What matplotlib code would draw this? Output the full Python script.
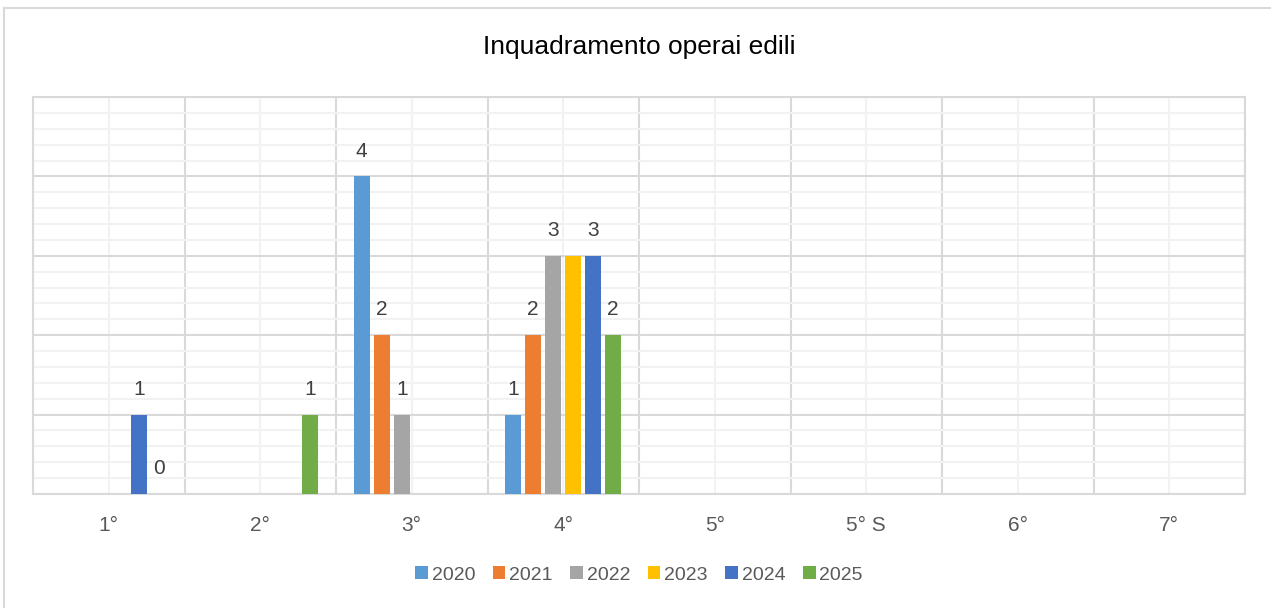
import numpy as np
import matplotlib.pyplot as plt
from matplotlib.ticker import MultipleLocator
from matplotlib.lines import Line2D

plt.rcParams['font.family'] = ['Liberation Sans Narrow', 'Liberation Sans', 'DejaVu Sans']

# dati
categorie = ["1°", "2°", "3°", "4°", "5°", "5° S", "6°", "7°"]
anni = ["2020", "2021", "2022", "2023", "2024", "2025"]
v2020 = [np.nan, np.nan, 4, 1, np.nan, np.nan, np.nan, np.nan]
v2021 = [np.nan, np.nan, 2, 2, np.nan, np.nan, np.nan, np.nan]
v2022 = [np.nan, np.nan, 1, 3, np.nan, np.nan, np.nan, np.nan]
v2023 = [np.nan, np.nan, np.nan, 3, np.nan, np.nan, np.nan, np.nan]
v2024 = [1, np.nan, np.nan, 3, np.nan, np.nan, np.nan, np.nan]
v2025 = [0, 1, np.nan, 2, np.nan, np.nan, np.nan, np.nan]
serie = [v2020, v2021, v2022, v2023, v2024, v2025]
colori = ["#5B9BD5", "#ED7D31", "#A5A5A5", "#FFC000", "#4472C4", "#70AD47"]
# etichette che nel grafico originale non compaiono (sovrapposte)
etichette_nascoste = [("2023", "4°")]

fig = plt.figure(figsize=(12.71, 6.08), dpi=100)
ax = fig.add_axes([33 / 1271, 114 / 608, 1212 / 1271, 397 / 608])

x = np.arange(len(categorie))
step = 20 / 151.5
width = 16 / 151.5
for i, (vals, col) in enumerate(zip(serie, colori)):
    pos = x + (i - 2.5) * step
    ax.bar(pos, vals, width, color=col, label=anni[i], zorder=3)
    for p, v, cat in zip(pos, vals, categorie):
        if np.isnan(v) or (anni[i], cat) in etichette_nascoste:
            continue
        ax.text(p, v + 0.2, f"{int(v)}", ha='center', va='bottom',
                fontsize=15, color='#404040', zorder=4)

ax.set_xlim(-0.5, len(categorie) - 0.5)
ax.set_ylim(0, 5)
ax.yaxis.set_major_locator(MultipleLocator(1))
ax.yaxis.set_minor_locator(MultipleLocator(0.2))
ax.set_xticks(x)
ax.set_xticklabels(categorie, fontsize=15, color='#595959')
ax.set_xticks(np.arange(-0.5, len(categorie)), minor=True)
ax.tick_params(axis='both', which='both', length=0)
ax.tick_params(axis='x', pad=16)
ax.set_yticklabels([])

# griglia
ax.grid(which='major', axis='y', color='#D9D9D9', linewidth=1.5, zorder=0)
ax.grid(which='minor', axis='y', color='#F2F2F2', linewidth=1.5, zorder=0)
ax.grid(which='minor', axis='x', color='#D9D9D9', linewidth=1.5, zorder=0)
ax.grid(which='major', axis='x', color='#F2F2F2', linewidth=1.5, zorder=0)
for s in ax.spines.values():
    s.set_color('#D9D9D9')
    s.set_linewidth(1.5)

fig.text(639 / 1271, 1 - 47 / 608, "Inquadramento operai edili", ha='center', va='center',
         fontsize=19, color='black')

ax.legend(loc='center', bbox_to_anchor=(0.5, (608 - 575 - 114) / 397), ncol=6,
          frameon=False, fontsize=14, handlelength=0.65, handleheight=0.65,
          handletextpad=0.2, columnspacing=0.9, labelcolor='#595959')

# bordo del grafico
fig.add_artist(Line2D([4 / 1271, 4 / 1271], [0, 1 - 8 / 608], transform=fig.transFigure,
                      color='#D9D9D9', linewidth=1.5))
fig.add_artist(Line2D([4 / 1271, 1], [1 - 8 / 608, 1 - 8 / 608], transform=fig.transFigure,
                      color='#D9D9D9', linewidth=1.5))

fig.savefig('out.png', dpi=100)
